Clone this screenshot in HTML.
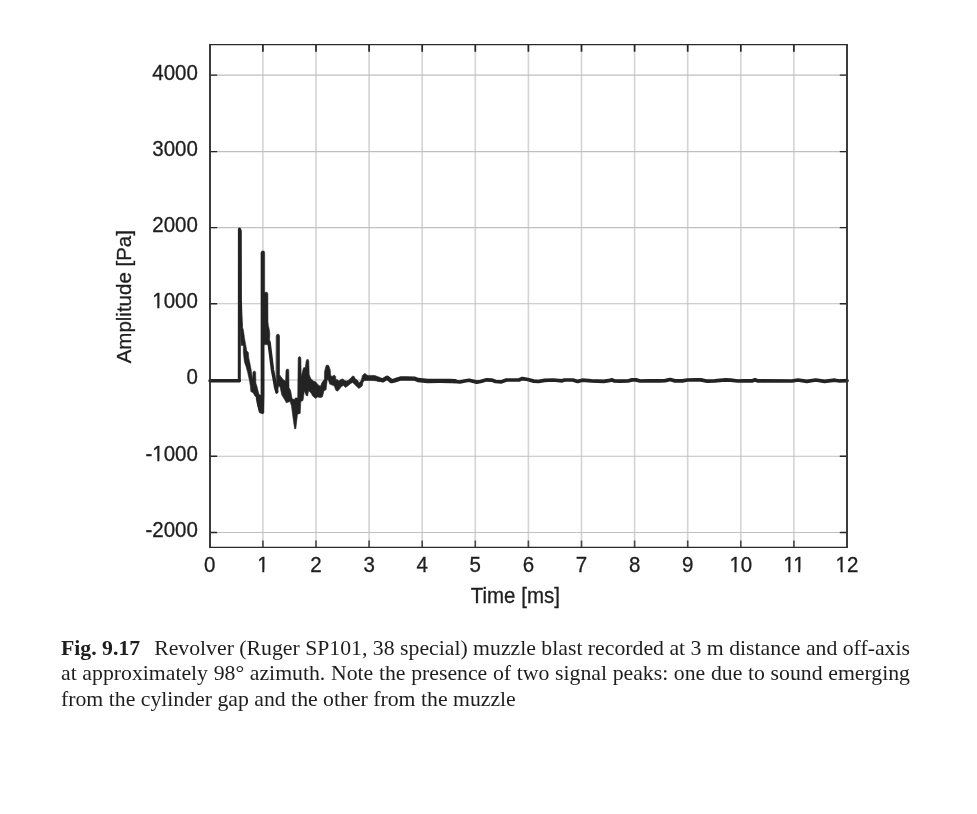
<!DOCTYPE html>
<html><head><meta charset="utf-8"><title>Fig. 9.17</title>
<style>
html,body{margin:0;padding:0;background:#fff;}
body{width:977px;height:814px;position:relative;overflow:hidden;}
.cap{position:absolute;left:61px;top:635.8px;width:849px;font-family:"Liberation Serif", "Times New Roman", serif;font-size:21.75px;line-height:25.4px;color:#1e1e1e;}
.cap div{white-space:nowrap;}
.cap{will-change:transform;}
.cap .j{text-align:justify;text-align-last:justify;}
.cap b{font-weight:bold;}
.gap{display:inline-block;width:14px;}
</style></head><body>
<svg width="977" height="620" viewBox="0 0 977 620" style="position:absolute;left:0;top:0;will-change:transform"><path d="M262.90 44.5V547.4 M316.00 44.5V547.4 M369.10 44.5V547.4 M422.20 44.5V547.4 M475.30 44.5V547.4 M528.40 44.5V547.4 M581.50 44.5V547.4 M634.60 44.5V547.4 M687.70 44.5V547.4 M740.80 44.5V547.4 M793.90 44.5V547.4" stroke="#d4d4d4" stroke-width="1.6" fill="none"/><path d="M210 532.50H847 M210 456.30H847 M210 380.00H847 M210 303.70H847 M210 227.60H847 M210 151.60H847 M210 75.15H847" stroke="#c0c0c0" stroke-width="1.1" fill="none"/><path d="M262.90 44.5v7.2 M316.00 44.5v7.2 M369.10 44.5v7.2 M422.20 44.5v7.2 M475.30 44.5v7.2 M528.40 44.5v7.2 M581.50 44.5v7.2 M634.60 44.5v7.2 M687.70 44.5v7.2 M740.80 44.5v7.2 M793.90 44.5v7.2" stroke="#262626" stroke-width="1.7" fill="none"/><path d="M262.90 547.4V540.4 M316.00 547.4V540.4 M369.10 547.4V540.4 M422.20 547.4V540.4 M475.30 547.4V540.4 M528.40 547.4V540.4 M581.50 547.4V540.4 M634.60 547.4V540.4 M687.70 547.4V540.4 M740.80 547.4V540.4 M793.90 547.4V540.4" stroke="#484848" stroke-width="1.6" fill="none"/><path d="M210 532.50h7.2M847 532.50h-7.2 M210 456.30h7.2M847 456.30h-7.2 M210 380.00h7.2M847 380.00h-7.2 M210 303.70h7.2M847 303.70h-7.2 M210 227.60h7.2M847 227.60h-7.2 M210 151.60h7.2M847 151.60h-7.2 M210 75.15h7.2M847 75.15h-7.2" stroke="#262626" stroke-width="1.4" fill="none"/><g fill="#232323" stroke="#232323" stroke-linejoin="round" stroke-linecap="round"><polyline points="210.0,380.8 239.3,380.8" fill="none" stroke-width="3.4"/><polyline points="239.3,380.8 239.4,228.9 240.3,231.0 240.4,300.0 240.9,316.0 241.3,326.0" fill="none" stroke-width="3.0"/><polygon points="240.4,314.0 241.6,316.0 242.2,326.0 243.5,330.4 244.6,338.4 245.7,344.6 246.8,350.8 248.4,352.5 248.8,358.0 250.0,363.4 251.2,370.0 252.2,377.5 252.6,378.6 252.9,372.5 253.6,371.2 255.0,371.2 255.7,372.5 255.9,383.0 257.2,387.0 258.6,393.0 259.6,396.5 255.2,396.5 253.0,392.8 250.8,391.6 250.3,386.0 249.3,380.0 247.5,372.0 246.0,366.5 244.4,362.0 243.3,352.5 243.3,345.5 241.2,345.5 240.6,330.0" stroke-width="0.5"/><polyline points="257.5,395.0 258.5,403.0 260.5,411.0 262.4,411.8" fill="none" stroke-width="3.4"/><polygon points="261.0,252.5 261.8,251.0 264.0,251.0 264.7,252.5 264.7,292.6 265.5,292.2 267.2,292.2 267.9,294.0 268.0,322.0 268.5,326.0 269.3,329.3 269.8,333.0 269.6,340.0 269.2,344.6 264.2,344.8 264.2,395.0 263.9,412.5 263.0,413.8 262.0,413.8 261.0,412.5" stroke-width="0.5"/><polygon points="255.8,392.5 258.0,394.2 261.5,395.5 262.2,413.3 259.6,413.0 258.0,407.0 256.5,400.0" stroke-width="0.5"/><polyline points="269.0,342.0 270.0,350.0 271.5,362.0 272.5,370.0 274.0,378.0 275.7,387.6 276.8,391.5" fill="none" stroke-width="3.5"/><polygon points="276.3,336.0 276.8,334.6 277.9,334.2 279.0,334.6 279.5,336.0 279.5,374.7 283.2,379.8 285.6,381.2 286.0,370.5 286.6,369.2 288.3,369.2 288.8,370.5 289.0,387.6 290.6,390.4 292.1,398.7 294.2,399.6 295.6,397.8 297.7,398.2 298.2,358.0 298.9,356.8 300.2,356.8 300.9,358.0 301.2,376.6 303.5,367.8 305.3,367.4 306.2,361.0 306.9,359.5 308.2,359.5 308.8,361.0 309.2,374.4 310.6,378.3 313.6,381.3 315.5,381.7 318.5,385.2 320.5,386.2 322.0,382.5 324.3,379.4 324.6,371.3 326.1,365.6 327.1,365.1 328.7,365.6 330.2,369.7 330.7,375.4 332.2,376.4 334.3,375.1 335.6,376.4 335.8,379.4 337.4,379.7 338.9,381.0 340.9,379.4 343.0,378.9 344.5,380.5 346.6,381.0 348.6,380.2 350.7,377.9 352.7,376.1 354.2,376.4 355.3,378.9 357.3,380.0 358.8,382.5 359.9,382.3 361.4,380.0 362.4,375.4 365.0,373.3 366.5,374.8 368.1,375.4 372.0,375.4 374.9,375.6 380.0,377.5 380.0,381.5 374.9,380.7 372.0,380.5 368.1,380.5 364.5,380.5 362.9,382.5 362.4,385.6 360.9,387.1 358.8,388.4 356.8,386.6 354.2,384.1 352.7,382.5 350.7,383.5 347.6,386.1 345.5,387.4 343.5,385.6 341.4,386.6 339.4,389.2 337.4,391.2 335.8,390.2 334.3,386.1 332.2,385.1 329.7,384.1 329.2,382.5 328.1,379.4 327.1,380.5 326.1,389.7 324.0,390.7 322.4,397.0 320.5,397.5 317.5,397.0 315.5,398.4 312.6,396.0 311.1,393.0 308.6,390.8 307.6,395.9 306.2,395.5 304.4,390.8 303.0,400.5 300.8,401.4 300.2,413.4 297.5,414.3 295.8,428.8 294.6,428.8 293.3,419.9 291.5,406.0 290.1,401.4 286.4,402.8 284.6,399.6 281.8,395.0 280.0,386.7 278.6,385.8 277.2,393.4 276.3,393.5" stroke-width="0.6"/><polyline points="378.0,379.3 379.8,379.5 382.8,380.3 387.2,377.7 391.6,381.2 395.6,380.1 400.5,378.5 406.9,378.4 414.2,378.6 418.0,380.0 427.8,381.0 440.1,380.9 449.9,381.0 455.0,381.2" fill="none" stroke-width="4.3"/><polyline points="449.9,381.0 459.8,382.0 466.0,380.7 469.0,380.2 476.8,382.1 480.7,381.5 486.6,379.8 491.6,380.1 495.5,381.5 501.4,381.9 506.3,380.0 514.0,380.0 518.9,379.9 522.4,378.6 527.8,379.5 533.7,381.1 538.6,381.5 544.5,380.4 553.3,380.0 562.0,380.8 564.5,380.0 572.8,380.0 577.7,381.5 582.1,380.2 591.5,380.8 603.8,381.3 610.0,380.3 612.0,379.9 614.0,380.8 620.0,381.1 628.0,381.0 632.0,379.9 636.0,379.9 640.0,381.0 648.0,380.9 660.3,380.9 665.2,380.6 670.1,379.5 675.0,380.9 682.4,380.9 687.3,380.0 696.0,379.9 700.9,379.9 707.3,381.2 714.7,380.8 725.5,379.8 730.4,380.1 737.8,381.0 744.0,380.9 752.0,380.9 755.0,379.8 758.0,380.9 792.0,381.0 797.9,380.0 806.8,381.3 815.8,380.0 824.7,381.3 834.8,380.2 839.5,381.0 847.0,380.6" fill="none" stroke-width="3.7"/></g><path d="M209.2 44.6H847.8M209.2 547.4H847.8" stroke="#2a2a2a" stroke-width="1.4" fill="none"/><path d="M210 43.9V548.1M847 43.9V548.1" stroke="#333333" stroke-width="1.9" fill="none"/><text transform="translate(197.9 537.1) scale(1 1.06)" text-anchor="end" font-family='"Liberation Sans", Arial, sans-serif' font-size="20.5" fill="#1e1e1e" stroke="#1e1e1e" stroke-width="0.3">-2000</text><text transform="translate(197.9 461.1) scale(1 1.06)" text-anchor="end" font-family='"Liberation Sans", Arial, sans-serif' font-size="20.5" fill="#1e1e1e" stroke="#1e1e1e" stroke-width="0.3">-1000</text><text transform="translate(197.9 384.0) scale(1 1.06)" text-anchor="end" font-family='"Liberation Sans", Arial, sans-serif' font-size="20.5" fill="#1e1e1e" stroke="#1e1e1e" stroke-width="0.3">0</text><text transform="translate(197.9 308.1) scale(1 1.06)" text-anchor="end" font-family='"Liberation Sans", Arial, sans-serif' font-size="20.5" fill="#1e1e1e" stroke="#1e1e1e" stroke-width="0.3">1000</text><text transform="translate(197.9 232.1) scale(1 1.06)" text-anchor="end" font-family='"Liberation Sans", Arial, sans-serif' font-size="20.5" fill="#1e1e1e" stroke="#1e1e1e" stroke-width="0.3">2000</text><text transform="translate(197.9 156.1) scale(1 1.06)" text-anchor="end" font-family='"Liberation Sans", Arial, sans-serif' font-size="20.5" fill="#1e1e1e" stroke="#1e1e1e" stroke-width="0.3">3000</text><text transform="translate(197.9 80.0) scale(1 1.06)" text-anchor="end" font-family='"Liberation Sans", Arial, sans-serif' font-size="20.5" fill="#1e1e1e" stroke="#1e1e1e" stroke-width="0.3">4000</text><text transform="translate(209.8 571.9) scale(1 1.06)" text-anchor="middle" font-family='"Liberation Sans", Arial, sans-serif' font-size="20.5" fill="#1e1e1e" stroke="#1e1e1e" stroke-width="0.3">0</text><text transform="translate(262.9 571.9) scale(1 1.06)" text-anchor="middle" font-family='"Liberation Sans", Arial, sans-serif' font-size="20.5" fill="#1e1e1e" stroke="#1e1e1e" stroke-width="0.3">1</text><text transform="translate(316.0 571.9) scale(1 1.06)" text-anchor="middle" font-family='"Liberation Sans", Arial, sans-serif' font-size="20.5" fill="#1e1e1e" stroke="#1e1e1e" stroke-width="0.3">2</text><text transform="translate(369.1 571.9) scale(1 1.06)" text-anchor="middle" font-family='"Liberation Sans", Arial, sans-serif' font-size="20.5" fill="#1e1e1e" stroke="#1e1e1e" stroke-width="0.3">3</text><text transform="translate(422.2 571.9) scale(1 1.06)" text-anchor="middle" font-family='"Liberation Sans", Arial, sans-serif' font-size="20.5" fill="#1e1e1e" stroke="#1e1e1e" stroke-width="0.3">4</text><text transform="translate(475.3 571.9) scale(1 1.06)" text-anchor="middle" font-family='"Liberation Sans", Arial, sans-serif' font-size="20.5" fill="#1e1e1e" stroke="#1e1e1e" stroke-width="0.3">5</text><text transform="translate(528.4 571.9) scale(1 1.06)" text-anchor="middle" font-family='"Liberation Sans", Arial, sans-serif' font-size="20.5" fill="#1e1e1e" stroke="#1e1e1e" stroke-width="0.3">6</text><text transform="translate(581.5 571.9) scale(1 1.06)" text-anchor="middle" font-family='"Liberation Sans", Arial, sans-serif' font-size="20.5" fill="#1e1e1e" stroke="#1e1e1e" stroke-width="0.3">7</text><text transform="translate(634.6 571.9) scale(1 1.06)" text-anchor="middle" font-family='"Liberation Sans", Arial, sans-serif' font-size="20.5" fill="#1e1e1e" stroke="#1e1e1e" stroke-width="0.3">8</text><text transform="translate(687.7 571.9) scale(1 1.06)" text-anchor="middle" font-family='"Liberation Sans", Arial, sans-serif' font-size="20.5" fill="#1e1e1e" stroke="#1e1e1e" stroke-width="0.3">9</text><text transform="translate(740.8 571.9) scale(1 1.06)" text-anchor="middle" font-family='"Liberation Sans", Arial, sans-serif' font-size="20.5" fill="#1e1e1e" stroke="#1e1e1e" stroke-width="0.3">10</text><text transform="translate(793.9 571.9) scale(1 1.06)" text-anchor="middle" font-family='"Liberation Sans", Arial, sans-serif' font-size="20.5" fill="#1e1e1e" stroke="#1e1e1e" stroke-width="0.3">11</text><text transform="translate(847.0 571.9) scale(1 1.06)" text-anchor="middle" font-family='"Liberation Sans", Arial, sans-serif' font-size="20.5" fill="#1e1e1e" stroke="#1e1e1e" stroke-width="0.3">12</text><text transform="translate(515.3 602.7) scale(1 1.06)" text-anchor="middle" font-family='"Liberation Sans", Arial, sans-serif' font-size="20.5" fill="#1e1e1e" stroke="#1e1e1e" stroke-width="0.3">Time [ms]</text><text transform="translate(131.3 296.7) rotate(-90) scale(1 1.03)" text-anchor="middle" font-family='"Liberation Sans", Arial, sans-serif' font-size="20.5" fill="#1e1e1e" stroke="#1e1e1e" stroke-width="0.3">Amplitude [Pa]</text><g fill="#fff"><rect x="152.00" y="306.03" width="5.34" height="3.47"/><rect x="159.38" y="306.03" width="3.92" height="3.47"/><rect x="152.00" y="459.03" width="5.34" height="3.47"/><rect x="159.38" y="459.03" width="3.92" height="3.47"/><rect x="256.90" y="569.83" width="5.34" height="3.47"/><rect x="264.29" y="569.83" width="3.92" height="3.47"/><rect x="729.10" y="569.83" width="5.34" height="3.47"/><rect x="736.49" y="569.83" width="3.92" height="3.47"/><rect x="782.96" y="569.83" width="5.34" height="3.47"/><rect x="790.35" y="569.83" width="3.92" height="3.47"/><rect x="792.84" y="569.83" width="5.34" height="3.47"/><rect x="800.23" y="569.83" width="3.92" height="3.47"/><rect x="835.30" y="569.83" width="5.34" height="3.47"/><rect x="842.69" y="569.83" width="3.92" height="3.47"/></g></svg>
<div class="cap">
<div class="j"><b>Fig. 9.17</b><span class="gap"></span>Revolver (Ruger SP101, 38 special) muzzle blast recorded at 3 m distance and off-axis</div>
<div class="j">at approximately 98° azimuth. Note the presence of two signal peaks: one due to sound emerging</div>
<div>from the cylinder gap and the other from the muzzle</div>
</div>
</body></html>
